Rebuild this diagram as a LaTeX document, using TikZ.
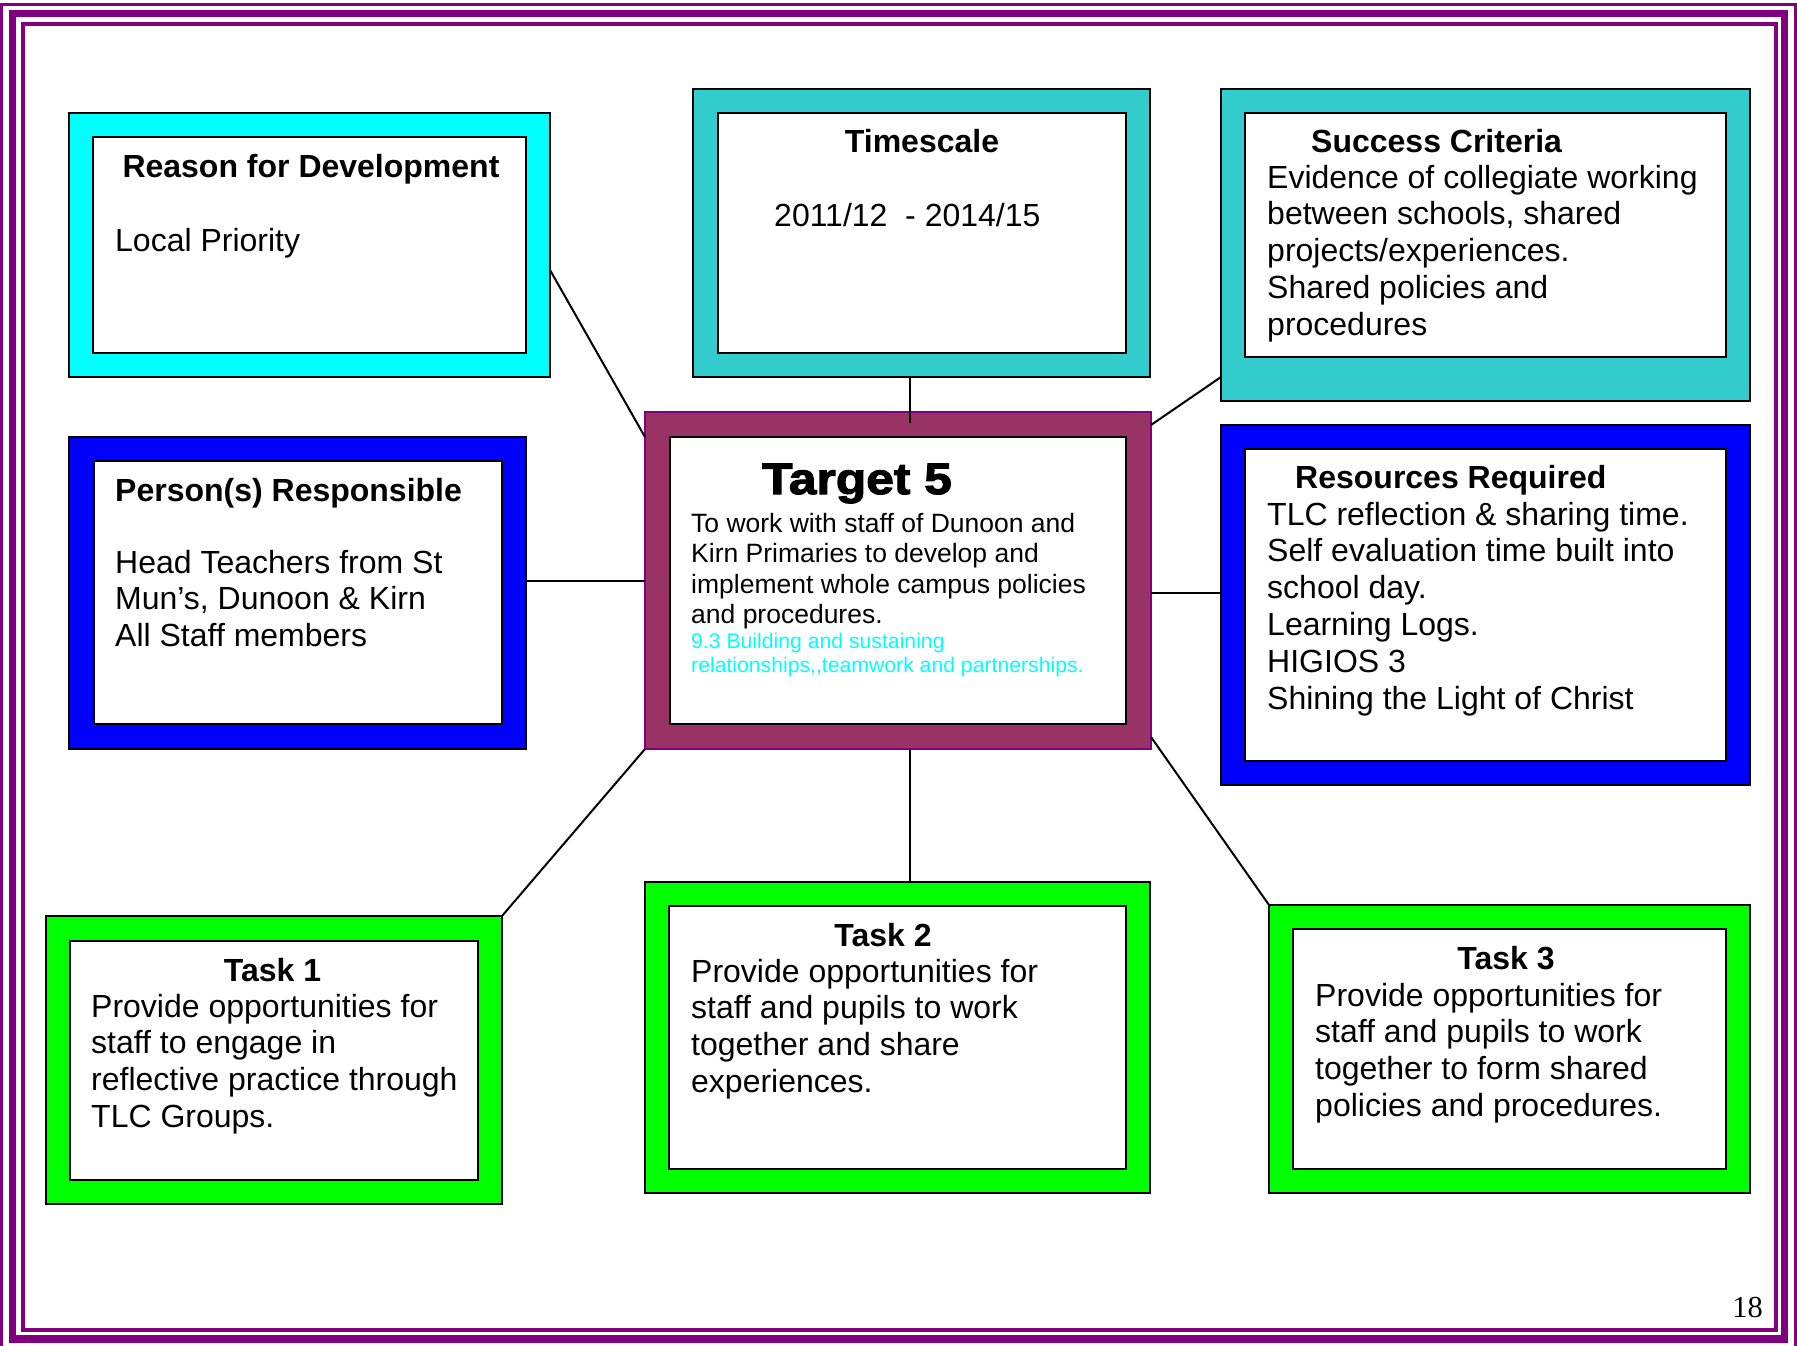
\documentclass[tikz,border=0pt]{standalone}
\usepackage{fontspec}
\setmainfont{Liberation Sans}
\newfontfamily\pagefont{Liberation Serif}
\newfontfamily\heavyfont{Liberation Sans}[FakeBold=2.6,FakeStretch=1.13]
\usetikzlibrary{fit,calc}

\definecolor{framecyan}{HTML}{00FFFF}
\definecolor{frameteal}{HTML}{33CCCC}
\definecolor{frameblue}{HTML}{0000FF}
\definecolor{framegreen}{HTML}{00FF00}
\definecolor{targetrose}{HTML}{993366}
\definecolor{borderpurple}{HTML}{800080}
\definecolor{notecyan}{HTML}{00FFFF}

% stacked lines whose baseline is the first line
\newcommand\txtlines[1]{\begin{tabular}[t]{@{}l@{}}#1\end{tabular}}

\begin{document}
\begin{tikzpicture}[x=1pt,y=-1pt,
  panel/.style={draw=black, line width=2pt, inner sep=0pt, outer sep=0pt},
  inset/.style={panel, fill=white},
  link/.style={draw=black, line width=2pt},
  body/.style={inner sep=0pt, anchor=base west, font=\fontsize{32}{36.8}\selectfont},
  head/.style={inner sep=0pt, font=\fontsize{32}{36.8}\selectfont\bfseries},
  aimtext/.style={inner sep=0pt, anchor=base west, font=\fontsize{26.5}{30.5}\selectfont},
  notetext/.style={inner sep=0pt, anchor=base west, text=notecyan, font=\fontsize{21.2}{24.5}\selectfont},
]
\useasboundingbox (0,0) rectangle (1797,1346);

% page border: three purple rules
\draw[borderpurple, line width=3pt] (1.5,4.2) rectangle (1795,1352);
\draw[borderpurple, line width=7.5pt] (12.5,13.5) rectangle (1784.5,1339);
\draw[borderpurple, line width=4pt] (23,24) rectangle (1775.5,1330);

% framed panels
\node[panel, fill=framecyan, fit={(69,113) (550,377)}] (reason) {};
\node[inset, fit={(93,137) (526,353)}] (reason-in) {};

\node[panel, fill=frameteal, fit={(693,89) (1150,377)}] (ts) {};
\node[inset, fit={(718,113) (1126,353)}] (ts-in) {};

\node[panel, fill=frameteal, fit={(1221,89) (1750,401)}] (success) {};
\node[inset, fit={(1245,113) (1726,357)}] (success-in) {};

\node[panel, fill=frameblue, fit={(69,437) (526,749)}] (person) {};
\node[inset, fit={(94,461) (502,724)}] (person-in) {};

\node[panel, draw=borderpurple, fill=targetrose, fit={(645,412) (1151,749)}] (target) {};
\node[inset, fit={(670,437) (1126,724)}] (target-in) {};

\node[panel, fill=frameblue, fit={(1221,425) (1750,785)}] (resources) {};
\node[inset, fit={(1245,449) (1726,761)}] (resources-in) {};

\node[panel, fill=framegreen, fit={(46,916) (502,1204)}] (task1) {};
\node[inset, fit={(70,941) (478,1180)}] (task1-in) {};

\node[panel, fill=framegreen, fit={(645,882) (1150,1193)}] (task2) {};
\node[inset, fit={(669,906) (1126,1169)}] (task2-in) {};

\node[panel, fill=framegreen, fit={(1269,905) (1750,1193)}] (task3) {};
\node[inset, fit={(1293,929) (1726,1169)}] (task3-in) {};

% connectors to the central target
\coordinate (ts-x) at (910,0);
\coordinate (p-y) at (0,581);
\coordinate (r-y) at (0,593);
\draw[link] ([yshift=-25pt]reason.east) -- ([yshift=-25pt]target.north west);
\draw[link, shorten >=-11pt] (ts.south -| ts-x) -- (target.north -| ts-x);
\draw[link] ([yshift=24pt]success.south west) -- ([yshift=-13pt]target.north east);
\draw[link] (person.east |- p-y) -- (target.west |- p-y);
\draw[link] (resources.west |- r-y) -- (target.east |- r-y);
\draw[link] (task1.north east) -- (target.south west);
\draw[link] (task2.north -| ts-x) -- (target.south -| ts-x);
\draw[link] (task3.north west) -- ([yshift=12pt]target.south east);

% texts
\node[head, anchor=base] (reason-t) at (311,177) {Reason for Development};
\node[body] (reason-b) at (115,251) {Local Priority};

\node[head, anchor=base] (ts-t) at (922,152) {Timescale};
\node[body] (ts-b) at (774,226) {2011/12\ \ - 2014/15};

\node[head, anchor=base west] (success-t) at (1311,152) {Success Criteria};
\node[body] (success-b) at (1267,188) {\txtlines{Evidence of collegiate working\\
  between schools, shared\\ projects/experiences.\\ Shared policies and\\ procedures}};

\node[head, anchor=base west] (person-t) at (115,501) {Person(s) Responsible};
\node[body] (person-b) at (115,573) {\txtlines{Head Teachers from St\\
  Mun’s, Dunoon \& Kirn\\ All Staff members}};

\node[inner sep=0pt, anchor=base west, font=\fontsize{44}{50}\selectfont\heavyfont\bfseries]
  (target-t) at (762,494) {Target 5};
\node[aimtext] (target-b) at (691,532) {\txtlines{To work with staff of Dunoon and\\
  Kirn Primaries to develop and\\ implement whole campus policies\\ and procedures.}};
\node[notetext] (target-n) at (691,648) {\txtlines{9.3 Building and sustaining\\
  relationships,{},teamwork and partnerships.}};

\node[head, anchor=base west] (resources-t) at (1295,488) {Resources Required};
\node[body] (resources-b) at (1267,525) {\txtlines{TLC reflection \& sharing time.\\
  Self evaluation time built into\\ school day.\\ Learning Logs.\\ HIGIOS 3\\
  Shining the Light of Christ}};

\node[head, anchor=base] (task1-t) at (272.5,981) {Task 1};
\node[body] (task1-b) at (91,1017) {\txtlines{Provide opportunities for\\
  staff to engage in\\ reflective practice through\\ TLC Groups.}};

\node[head, anchor=base] (task2-t) at (883,946) {Task 2};
\node[body] (task2-b) at (691,982) {\txtlines{Provide opportunities for\\
  staff and pupils to work\\ together and share\\ experiences.}};

\node[head, anchor=base] (task3-t) at (1506,969) {Task 3};
\node[body] (task3-b) at (1315,1006) {\txtlines{Provide opportunities for\\
  staff and pupils to work\\ together to form shared\\ policies and procedures.}};

\node[inner sep=0pt, anchor=base east, font=\fontsize{30.5}{35}\selectfont\pagefont]
  (pageno) at (1763,1317) {18};
\end{tikzpicture}
\end{document}
